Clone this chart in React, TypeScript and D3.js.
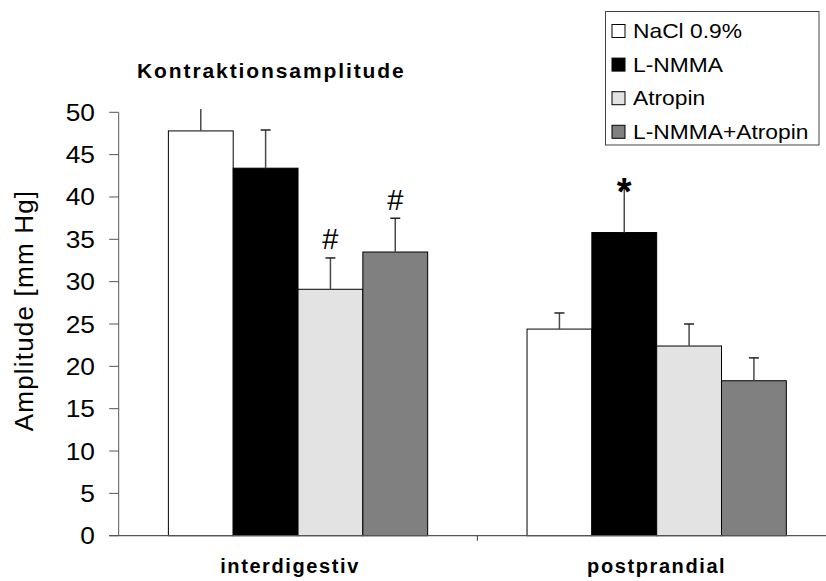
import React from "react";
import * as d3 from "d3";

// Groups, series and values
const categories = ["interdigestiv", "postprandial"];
const seriesNames = ["NaCl 0.9%", "L-NMMA", "Atropin", "L-NMMA+Atropin"];
const naclMeans = [47.8, 24.4];
const naclErrors = [3.2, 1.9];
const lnmmaMeans = [43.4, 35.8];
const lnmmaErrors = [4.5, 5.2];
const atropinMeans = [29.1, 22.4];
const atropinErrors = [3.7, 2.6];
const comboMeans = [33.5, 18.3];
const comboErrors = [4.0, 2.7];
const naclMarks = ["", ""];
const lnmmaMarks = ["", "*"];
const atropinMarks = ["#", ""];
const comboMarks = ["#", ""];
const yTicks = [0, 5, 10, 15, 20, 25, 30, 35, 40, 45, 50];

const seriesFills = ["#ffffff", "#000000", "#e3e3e3", "#808080"];
const seriesData = [
  { name: seriesNames[0], means: naclMeans, errors: naclErrors, marks: naclMarks },
  { name: seriesNames[1], means: lnmmaMeans, errors: lnmmaErrors, marks: lnmmaMarks },
  { name: seriesNames[2], means: atropinMeans, errors: atropinErrors, marks: atropinMarks },
  { name: seriesNames[3], means: comboMeans, errors: comboErrors, marks: comboMarks },
];

const W = 826;
const H = 581;
const axisX = 118.7;
const axisRight = 836;
const groupWidth = 259.3;

export default function App() {
  const y = d3.scaleLinear().domain([0, 50]).range([535.7, 112.3]);
  const x0 = d3.scaleBand<string>().domain(categories).range([axisX, axisRight]).padding(0);
  const x1 = d3.scaleBand<string>().domain(seriesNames).range([0, groupWidth]).padding(0);
  const groupOffset = (x0.bandwidth() - groupWidth) / 2;
  const clipTop = y(50.4);

  return (
    <div style={{ position: "absolute", left: 0, top: 0 }}>
      <svg width={W} height={H} style={{ display: "block", background: "#fff" }}
        fontFamily="'Liberation Sans', Arial, sans-serif">
        <defs>
          <clipPath id="plotClip">
            <rect x={axisX} y={clipTop} width={axisRight - axisX} height={y(0) - clipTop + 2} />
          </clipPath>
        </defs>

        {/* Title */}
        <text x={137} y={78} fontSize={21} fontWeight="bold" letterSpacing={1.9} fill="#000">
          Kontraktionsamplitude
        </text>

        {/* Y axis label */}
        <text transform={`translate(33,${310.5}) rotate(-90)`} textAnchor="middle" fontSize={26}
          letterSpacing={1.2} fill="#000">
          Amplitude [mm Hg]
        </text>

        {/* Bars */}
        <g clipPath="url(#plotClip)">
          {seriesData.map((s, si) =>
            categories.map((c, ci) => {
              const bx = (x0(c) as number) + groupOffset + (x1(s.name) as number);
              const bw = x1.bandwidth();
              const top = y(s.means[ci]);
              return (
                <rect key={`b-${si}-${ci}`} x={bx} y={top} width={bw} height={y(0) - top}
                  fill={seriesFills[si]} stroke="#000" strokeWidth={1} />
              );
            })
          )}
          {/* Error bars (upper) */}
          {seriesData.map((s, si) =>
            categories.map((c, ci) => {
              const cx = (x0(c) as number) + groupOffset + (x1(s.name) as number) + x1.bandwidth() / 2;
              const top = y(s.means[ci]);
              const eTop = y(s.means[ci] + s.errors[ci]);
              return (
                <g key={`e-${si}-${ci}`}>
                  <line x1={cx} x2={cx} y1={top} y2={eTop} stroke="#4a4a4a" strokeWidth={1.5} />
                  <line x1={cx - 5} x2={cx + 5} y1={eTop} y2={eTop} stroke="#222" strokeWidth={1.5} />
                </g>
              );
            })
          )}
        </g>

        {/* Significance marks */}
        {seriesData.map((s, si) =>
          categories.map((c, ci) => {
            const mark = s.marks[ci];
            if (!mark) return null;
            const cx = (x0(c) as number) + groupOffset + (x1(s.name) as number) + x1.bandwidth() / 2;
            const eTop = y(s.means[ci] + s.errors[ci]);
            const isStar = mark === "*";
            return (
              <text key={`m-${si}-${ci}`} x={cx} y={isStar ? eTop + 16 : eTop - 8.5}
                textAnchor="middle" fontSize={isStar ? 38 : 29} fontWeight={isStar ? "bold" : "normal"}
                fill="#000">
                {mark}
              </text>
            );
          })
        )}

        {/* Y axis */}
        <line x1={axisX} x2={axisX} y1={y(50)} y2={y(0)} stroke="#555" strokeWidth={1} />
        {yTicks.map((t) => (
          <g key={`t-${t}`}>
            <line x1={axisX - 9.5} x2={axisX} y1={y(t)} y2={y(t)} stroke="#555" strokeWidth={1} />
            <text transform={`translate(95,${y(t) + 8.5}) scale(1.12,1)`} textAnchor="end"
              fontSize={23.5} fill="#000">
              {t}
            </text>
          </g>
        ))}

        {/* X axis */}
        <line x1={axisX - 9.5} x2={W} y1={y(0)} y2={y(0)} stroke="#555" strokeWidth={1.2} />
        {categories.slice(1).map((c) => (
          <line key={`xt-${c}`} x1={x0(c) as number} x2={x0(c) as number} y1={y(0)} y2={y(0) + 5}
            stroke="#333" strokeWidth={1} />
        ))}
        {categories.map((c) => (
          <text key={`xl-${c}`} x={(x0(c) as number) + x0.bandwidth() / 2 - (c === "interdigestiv" ? 8 : 0)}
            y={573} textAnchor="middle" fontSize={20} fontWeight="bold" letterSpacing={1.6} fill="#000">
            {c}
          </text>
        ))}

        {/* Legend */}
        <rect x={605.5} y={11.5} width={213.5} height={133.5} fill="#fff" stroke="#444" strokeWidth={1} />
        {seriesNames.map((n, i) => {
          const cy = 31 + i * 33.6;
          return (
            <g key={`lg-${n}`}>
              <rect x={612} y={cy - 6.5} width={13} height={13} fill={seriesFills[i]} stroke="#000" strokeWidth={1} />
              <text transform={`translate(633,${cy + 7}) scale(1.14,1)`} fontSize={20} fill="#000">{n}</text>
            </g>
          );
        })}
      </svg>
    </div>
  );
}
